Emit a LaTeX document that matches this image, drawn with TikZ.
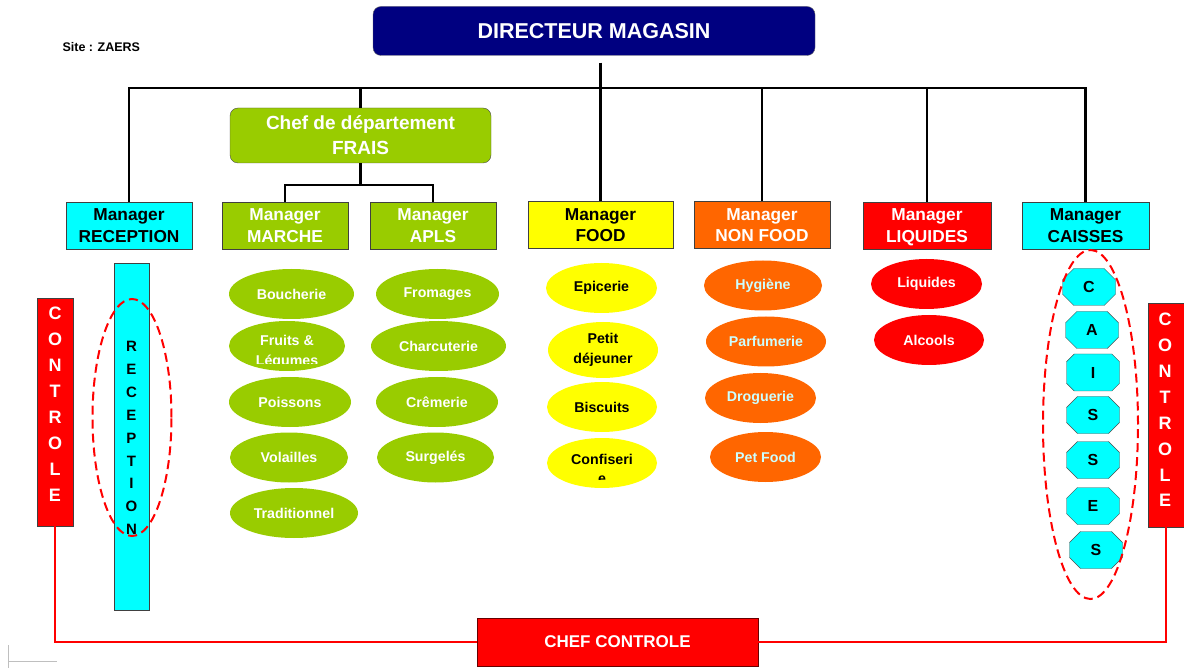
\documentclass[tikz,border=0pt]{standalone}
\usepackage{fontspec}
\setmainfont{Liberation Sans}
\usetikzlibrary{shapes.geometric,shapes.misc}

\definecolor{navy}{HTML}{000080}
\definecolor{frais}{HTML}{99CC00}
\definecolor{jaune}{HTML}{FFFF00}
\definecolor{nforange}{HTML}{FF6600}
\definecolor{rouge}{HTML}{FF0000}
\definecolor{turq}{HTML}{00FFFF}
\definecolor{pale}{HTML}{CCFFFF}

\tikzset{
  mgr/.style={draw=black!75, line width=0.8pt, minimum height=47pt, inner sep=0pt,
    align=center, font=\fontsize{17.3}{21.5}\selectfont\bfseries},
  dept/.style={ellipse, inner sep=0pt, minimum height=50pt, align=center,
    font=\fontsize{14.2}{19.5}\selectfont\bfseries},
  grn/.style={dept, fill=frais, text=white},
  jne/.style={dept, fill=jaune, text=black},
  org/.style={dept, fill=nforange, text=pale},
  rge/.style={dept, fill=rouge, text=white},
  link/.style={line width=2.2pt, black},
  redlink/.style={line width=2.2pt, rouge},
  ring/.style={ellipse, draw=rouge, line width=2pt, dash pattern=on 9pt off 5pt},
  caisse/.style={chamfered rectangle, chamfered rectangle sep=9pt, draw=black!70,
    fill=turq, minimum width=53pt, minimum height=37pt, inner sep=0pt,
    font=\fontsize{16}{18}\selectfont\bfseries},
  vbar/.style={draw=black!75, line width=0.8pt, inner sep=0pt},
  vtext/.style={align=center, inner sep=0pt},
}

\begin{document}
\begin{tikzpicture}[x=1pt,y=-1pt]
\useasboundingbox (0,0) rectangle (1184,668);

% Site label
\node[anchor=west, font=\fontsize{12.5}{15}\selectfont\bfseries] (site) at (59,47) {Site : ZAERS};

% Director and department head
\node[draw=black!60, fill=navy, rounded corners=8pt, minimum width=442pt, minimum height=49pt,
  text=white, font=\fontsize{21.5}{25}\selectfont\bfseries] (dir) at (594,31) {DIRECTEUR MAGASIN};
\node[draw=black!70, fill=frais, rounded corners=8pt, minimum width=261pt, minimum height=55pt,
  text=white, align=center, font=\fontsize{19}{25}\selectfont\bfseries] (chef) at (360.5,135.5)
  {Chef de département\\FRAIS};

% Managers
\node[mgr, fill=turq, minimum width=126pt] (recep) at (129,225.5) {Manager\\RECEPTION};
\node[mgr, fill=frais, text=white, minimum width=126pt] (marche) at (285,225.5) {Manager\\MARCHE};
\node[mgr, fill=frais, text=white, minimum width=126pt] (apls) at (433,225.5) {Manager\\APLS};
\node[mgr, fill=jaune, minimum width=145pt] (food) at (600.5,225) {Manager\\FOOD};
\node[mgr, fill=nforange, text=white, minimum width=136pt] (nonfood) at (762,225) {Manager\\NON FOOD};
\node[mgr, fill=rouge, text=white, minimum width=128pt] (liq) at (927,225.5) {Manager\\LI\smash{Q}UIDES};
\node[mgr, fill=turq, minimum width=127pt] (caisses) at (1085.5,225.5) {Manager\\CAISSES};

% Tree lines
\coordinate (bus) at (0,88);
\coordinate (fork) at (0,185);
\draw[link] (recep.north) -- (recep.north |- bus) -- (caisses.north |- bus) -- (caisses.north);
\foreach \n in {chef, nonfood, liq}
  \draw[link] (\n.north |- bus) -- (\n.north);
\draw[link, shorten <=7pt] (food.north |- dir.south) -- (food.north);
\draw[link] (chef.south) -- (chef.south |- fork);
\draw[link] (marche.north) -- (marche.north |- fork) -- (apls.north |- fork) -- (apls.north);

% Rayons MARCHE
\node[grn, minimum width=125pt] (bouch) at (291.5,294) {Boucherie};
\node[grn, minimum width=116pt] (fruits) at (287,346) {};
\begin{scope}
  \clip (220,320) rectangle (360,363.5);
  \node[dept, text=white] (fruitstxt) at (287,352) {Fruits \&\\Légumes};
\end{scope}
\node[grn, minimum width=122pt] (poiss) at (290,402) {Poissons};
\node[grn, minimum width=118pt] (vol) at (289,457.5) {Volailles};
\node[grn, minimum width=128pt] (trad) at (294,513) {Traditionnel};

% Rayons APLS
\node[grn, minimum width=123pt] (from) at (437.5,294) {Fromages};
\node[grn, minimum width=135pt] (charc) at (438.5,346) {Charcuterie};
\node[grn, minimum width=122pt] (crem) at (437,402) {Crêmerie};
\node[grn, minimum width=117pt] (surg) at (435.5,457.5) {Surgelés};

% Rayons FOOD
\node[jne, minimum width=111pt] (epic) at (601.5,288) {Epicerie};
\node[jne, minimum width=110pt, minimum height=56pt] (petit) at (603,350) {Petit\\déjeuner};
\node[jne, minimum width=110pt] (bisc) at (602,407) {Biscuits};
\node[jne, minimum width=110pt] (conf) at (602,463) {};
\begin{scope}
  \clip (540,440) rectangle (665,479.5);
  \node[dept, text=black] (conftxt) at (602,469) {Confiseri\\e};
\end{scope}

% Rayons NON FOOD
\node[org, minimum width=118pt] (hyg) at (763,285.5) {Hygiène};
\node[org, minimum width=120pt] (parf) at (766,341.5) {Parfumerie};
\node[org, minimum width=111pt] (drog) at (760.5,398) {Droguerie};
\node[org, minimum width=111pt] (pet) at (765.5,457) {Pet Food};

% Rayons LIQUIDES
\node[rge, minimum width=111pt] (liquides) at (926.5,284) {Liquides};
\node[rge, minimum width=110pt] (alc) at (929,340) {Alcools};

% Reception bar
\node[vbar, fill=turq, minimum width=35pt, minimum height=347pt] (recbar) at (131.5,436.5) {};
\node[vtext, font=\fontsize{15}{22.9}\selectfont\bfseries] (rectxt) at (131.5,438)
  {R\\E\\C\\E\\P\\T\\I\\O\\N};
\node[ring, minimum width=79pt, minimum height=237pt] (recring) at (132,417.5) {};

% Caisses
\foreach \l/\x/\y [count=\i] in {C/1089/287, A/1092/330, I/1093/372.5, S/1093/415,
    S/1093/460, E/1093/506, S/1096/550}
  \node[caisse] (k\i) at (\x,\y) {\l};
\node[ring, minimum width=95pt, minimum height=349pt] (caring) at (1090.5,424.5) {};

% Controle bars
\node[vbar, fill=rouge, minimum width=36pt, minimum height=228pt] (ctrlL) at (55,412) {};
\node[vtext, text=white, font=\fontsize{18}{26}\selectfont\bfseries] (ctrlLtxt) at (55,404)
  {C\\O\\N\\T\\R\\O\\L\\E};
\node[vbar, fill=rouge, minimum width=36pt, minimum height=224pt] (ctrlR) at (1166,415) {};
\node[vtext, text=white, font=\fontsize{18}{25.9}\selectfont\bfseries] (ctrlRtxt) at (1165,410)
  {C\\O\\N\\T\\R\\O\\L\\E};

% Chef controle
\node[draw=black!60!red, line width=0.8pt, fill=rouge, minimum width=281pt, minimum height=48pt,
  text=white, font=\fontsize{17}{20}\selectfont\bfseries] (chefctrl) at (617.5,642) {CHEF CONTROLE};
\draw[redlink] (ctrlL.south) |- (chefctrl.west);
\draw[redlink] (ctrlR.south) |- (chefctrl.east);

% Page corner mark
\draw[black!25, line width=0.8pt] (8,645) -- (8,668);
\draw[black!25, line width=0.8pt] (8,661) -- (57,661);
\end{tikzpicture}
\end{document}
